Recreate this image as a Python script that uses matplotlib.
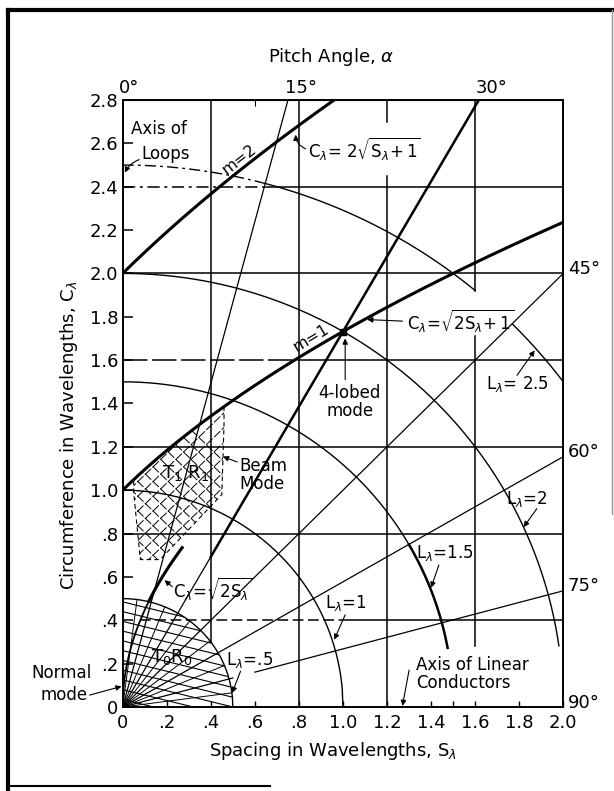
import numpy as np
import matplotlib.pyplot as plt
from matplotlib.patches import Polygon, Wedge
from matplotlib.lines import Line2D

plt.rcParams['font.family'] = 'DejaVu Sans'
plt.rcParams['mathtext.fontset'] = 'dejavusans'

# --- values ---
# circles of constant turn length L (drawn in pieces between s0 and s1)
circle_L = [0.5, 1.0, 1.5, 1.5, 2.0, 2.5, 2.5, 2.5]
circle_s0 = [0.0, 0.0, 0.0, 1.30, 0.0, 0.0, 0.65, 1.77]
circle_s1 = [0.5, 1.0, 1.30, 1.475, 1.98, 0.65, 1.60, 2.0]
circle_ls = ['-', '-', '-', '-', '-', (0, (8, 3, 2, 3)), '-', '-']

# pitch angle lines from the origin (deg), drawn between s0 and s1
pitch_deg = [15, 30, 30, 45, 60, 75, 75]
pitch_s0 = [0.0, 0.0, 0.40, 0.0, 0.0, 0.0, 0.60]
pitch_s1 = [2.0, 0.40, 2.0, 2.0, 2.0, 0.50, 2.0]
fan_deg = [7.5, 22.5, 37.5, 52.5, 67.5, 82.5]   # short lines inside T0R0

# mode curves: m=1, m=2 and the normal-mode curve
m1_s = (0.0, 2.0)
m2_s = (0.0, 0.96)
norm_s = (0.12, 0.27)

# grid pieces
vgrid_s = [0.4, 0.8, 1.2, 1.2, 1.6, 1.6]
vgrid_lo = [0.30, 0.0, 0.0, 2.70, 0.28, 1.92]
vgrid_hi = [2.8, 2.8, 2.45, 2.8, 1.71, 2.8]
hgrid_c = [0.4, 0.4, 0.8, 1.2, 1.6, 1.6, 2.0, 2.4, 2.4]
hgrid_lo = [0.08, 1.0, 0.0, 0.0, 0.0, 0.85, 0.0, 0.0, 0.65]
hgrid_hi = [1.0, 2.0, 2.0, 2.0, 0.85, 2.0, 2.0, 0.65, 2.0]
hgrid_ls = [(0, (7, 3)), '-', '-', '-', (0, (16, 3)), '-', '-', (0, (8, 3, 2, 3)), '-']

# beam mode (T1R1) region, lower boundary
t1_s = [0.46, 0.45, 0.17, 0.08, 0.05]
t1_c = [1.30, 0.98, 0.68, 0.68, 0.99]
t1_top = (0.05, 0.46)

# the 4-lobed mode point
lobe_s = [1.0]
lobe_c = [1.732]

xticks = [0, 0.2, 0.4, 0.6, 0.8, 1.0, 1.2, 1.4, 1.6, 1.8, 2.0]
xticklabels = ['0', '.2', '.4', '.6', '.8', '1.0', '1.2', '1.4', '1.6', '1.8', '2.0']
yticks = [0, 0.2, 0.4, 0.6, 0.8, 1.0, 1.2, 1.4, 1.6, 1.8, 2.0, 2.2, 2.4, 2.6, 2.8]
yticklabels = ['0', '.2', '.4', '.6', '.8', '1.0', '1.2', '1.4', '1.6', '1.8',
               '2.0', '2.2', '2.4', '2.6', '2.8']
top_angles = [0, 15, 30]
right_angles = [45, 60, 75, 90]

fig = plt.figure(figsize=(6.14, 7.91), dpi=100)
ax = fig.add_axes([0.1998, 0.1062, 0.7176, 0.7674])
ax.set_xlim(0, 2.0)
ax.set_ylim(0, 2.8)

thin = 0.9
thick = 2.2

# grid
for s, lo, hi in zip(vgrid_s, vgrid_lo, vgrid_hi):
    ax.plot([s, s], [lo, hi], color='k', lw=1.1)
for c, lo, hi, ls in zip(hgrid_c, hgrid_lo, hgrid_hi, hgrid_ls):
    ax.plot([lo, hi], [c, c], color='k', lw=1.1, linestyle=ls)

# circles of constant L
for L, s0, s1, ls in zip(circle_L, circle_s0, circle_s1, circle_ls):
    s = np.linspace(s0, s1, 300)
    c = np.sqrt(np.clip(L**2 - s**2, 0, None))
    lw = 1.8 if (L == 1.5 and s0 > 1) else 1.0
    ax.plot(s, c, color='k', lw=lw, linestyle=ls)

# pitch angle lines
for a, s0, s1 in zip(pitch_deg, pitch_s0, pitch_s1):
    s = np.array([s0, s1])
    lw = 1.8 if (a == 30 and s0 > 0) else thin
    ax.plot(s, s / np.tan(np.radians(a)), color='k', lw=lw)
for a in fan_deg:
    t = np.radians(90 - a)
    ax.plot([0, 0.5 * np.cos(t)], [0, 0.5 * np.sin(t)], color='k', lw=0.7)

# mode curves
s = np.linspace(*m1_s, 300)
ax.plot(s, np.sqrt(2 * s + 1), color='k', lw=thick)
s = np.linspace(*m2_s, 300)
ax.plot(s, 2 * np.sqrt(s + 1), color='k', lw=thick)
s = np.linspace(0, norm_s[0], 100)
ax.plot(s, np.sqrt(2 * s), color='k', lw=1.3)
s = np.linspace(*norm_s, 100)
ax.plot(s, np.sqrt(2 * s), color='k', lw=thick)

# T0R0 region hatch (sloped lines clipped to the L=0.5 quarter circle)
wedge = Wedge((0, 0), 0.5, 0, 90, transform=ax.transData, fill=False, lw=0)
ax.add_patch(wedge)
hs = np.array([0.0, 0.6])
for c0 in np.arange(0.035, 0.70, 0.045):
    ln, = ax.plot(hs, c0 - 0.25 * hs, color='k', lw=0.8)
    ln.set_clip_path(wedge)

# T1R1 region cross hatch (diagonal lines clipped to the region)
ts = np.linspace(*t1_top, 50)
poly_s = list(ts) + t1_s
poly_c = list(np.sqrt(2 * ts + 1)) + t1_c
poly = Polygon(np.column_stack([poly_s, poly_c]), closed=True, fill=False, lw=0,
               transform=ax.transData)
ax.add_patch(poly)
ds = np.array([-1.0, 1.5])
for k in np.arange(-1.0, 1.6, 0.068):
    for sgn in (1, -1):
        ln, = ax.plot(ds, k + sgn * ds * 0.985, color='k', lw=0.7,
                      linestyle=(0, (9, 2)))
        ln.set_clip_path(poly)
ax.plot([t1_top[1]] + t1_s + [t1_top[0]],
        [np.sqrt(2 * t1_top[1] + 1)] + t1_c + [np.sqrt(2 * t1_top[0] + 1)],
        color='k', lw=0.8, linestyle=(0, (4, 3)))

# 4-lobed point
ax.plot(lobe_s, lobe_c, marker='s', color='k', markersize=5)

# ticks and spines
ax.set_xticks(xticks, xticklabels, fontsize=13)
ax.set_yticks(yticks, yticklabels, fontsize=13)
ax.set_xticks([1.5], minor=True)
ax.tick_params(axis='x', direction='in', length=4, pad=5, width=1)
ax.tick_params(axis='x', which='minor', direction='in', length=4, width=1)
ax.tick_params(axis='y', direction='in', length=7, pad=3, width=1.1)
for sp in ax.spines.values():
    sp.set_linewidth(1.4)
sec = ax.secondary_xaxis('top')
sec.set_xticks([0.6], labels=[''])
sec.tick_params(direction='in', length=4)

ax.set_xlabel(r'Spacing in Wavelengths, $\mathrm{S}_\lambda$', fontsize=13)
ax.xaxis.set_label_coords(0.477, -0.054)
ax.set_ylabel(r'Circumference in Wavelengths, $\mathrm{C}_\lambda$', fontsize=13)
ax.yaxis.set_label_coords(-0.097, 0.447)
ax.text(0.473, 1.07, r'Pitch Angle, $\alpha$', transform=ax.transAxes,
        ha='center', va='center', fontsize=13)

# pitch angle labels
for a in top_angles:
    ax.text(2.8 * np.tan(np.radians(a)) - 0.015, 2.815, f'{a}°',
            ha='left', va='bottom', fontsize=13)
for a in right_angles:
    ax.text(2.02, 2.0 * np.tan(np.radians(90 - a)) + 0.02, f'{a}°',
            ha='left', va='center', fontsize=13)

# labels
fs = 12
ax.text(0.04, 2.665, 'Axis of', ha='left', va='center', fontsize=fs)
ax.text(0.085, 2.55, 'Loops', ha='left', va='center', fontsize=fs)
ax.text(0.53, 2.525, 'm=2', ha='center', va='center', fontsize=11.5,
        rotation=38, rotation_mode='anchor')
ax.text(0.855, 1.70, 'm=1', ha='center', va='center', fontsize=11.5,
        rotation=31, rotation_mode='anchor')
ax.text(0.84, 2.57, r'$\mathrm{C}_\lambda$= 2$\sqrt{\mathrm{S}_\lambda\!+1}$',
        ha='left', va='center', fontsize=fs)
ax.text(1.03, 1.405, '4-lobed\nmode', ha='center', va='center', fontsize=fs,
        linespacing=1.0)
ax.text(1.29, 1.78, r'$\mathrm{C}_\lambda$=$\sqrt{2\mathrm{S}_\lambda\!+1}$',
        ha='left', va='center', fontsize=fs)
ax.text(1.65, 1.49, r'$\mathrm{L}_\lambda$= 2.5', ha='left', va='center', fontsize=fs)
ax.text(1.74, 0.96, r'$\mathrm{L}_\lambda$=2', ha='left', va='center', fontsize=fs)
ax.text(1.33, 0.71, r'$\mathrm{L}_\lambda$=1.5', ha='left', va='center', fontsize=fs)
ax.text(0.92, 0.48, r'$\mathrm{L}_\lambda$=1', ha='left', va='center', fontsize=fs)
ax.text(0.47, 0.215, r'$\mathrm{L}_\lambda$=.5', ha='left', va='center', fontsize=fs)
ax.text(1.33, 0.15, 'Axis of Linear\nConductors', ha='left', va='center',
        fontsize=fs, linespacing=1.0)
ax.text(-0.14, 0.157, 'Normal', ha='right', va='center', fontsize=fs)
ax.text(-0.158, 0.055, 'mode', ha='right', va='center', fontsize=fs)
ax.text(0.23, 0.54, r'$\mathrm{C}_\lambda$=$\sqrt{2\mathrm{S}_\lambda}$',
        ha='left', va='center', fontsize=fs)
ax.text(0.13, 0.23, r'$\mathrm{T_0R_0}$', ha='left', va='center', fontsize=13)
ax.text(0.18, 1.08, r'$\mathrm{T_1\ R_1}$', ha='left', va='center', fontsize=13)
ax.text(0.53, 1.07, 'Beam\nMode', ha='left', va='center', fontsize=fs,
        linespacing=1.0)

# arrows (tail -> tip)
arrows = [
    ((0.075, 2.525), (0.01, 2.465), 0.2),
    ((0.83, 2.575), (0.785, 2.64), -0.3),
    ((1.01, 1.51), (1.01, 1.70), 0.0),
    ((1.27, 1.78), (1.11, 1.787), 0.0),
    ((1.79, 1.53), (1.87, 1.645), 0.0),
    ((1.88, 0.915), (1.82, 0.83), 0.0),
    ((1.435, 0.655), (1.40, 0.55), 0.0),
    ((1.01, 0.425), (0.96, 0.31), 0.0),
    ((0.535, 0.165), (0.497, 0.065), 0.0),
    ((1.30, 0.17), (1.27, 0.005), 0.0),
    ((-0.15, 0.055), (-0.005, 0.095), 0.0),
    ((0.225, 0.555), (0.19, 0.585), 0.0),
    ((0.52, 1.13), (0.455, 1.155), 0.0),
]
for tail, tip, rad in arrows:
    ax.annotate('', xy=tip, xytext=tail, annotation_clip=False,
                arrowprops=dict(arrowstyle='-|>', color='k', lw=0.8,
                                mutation_scale=8, shrinkA=0, shrinkB=0,
                                connectionstyle=f'arc3,rad={rad}'))

# outer frame of the scanned figure
for xs, ys, col, w in [([0.013, 0.013], [0.0, 0.987], 'k', 3),
                       ([0.013, 0.997], [0.987, 0.987], 'k', 3),
                       ([0.997, 0.997], [0.987, 0.35], '0.6', 1),
                       ([0.013, 0.44], [0.006, 0.006], 'k', 1.5)]:
    fig.add_artist(Line2D(xs, ys, transform=fig.transFigure, color=col, lw=w))

fig.savefig('out.png', dpi=100)
